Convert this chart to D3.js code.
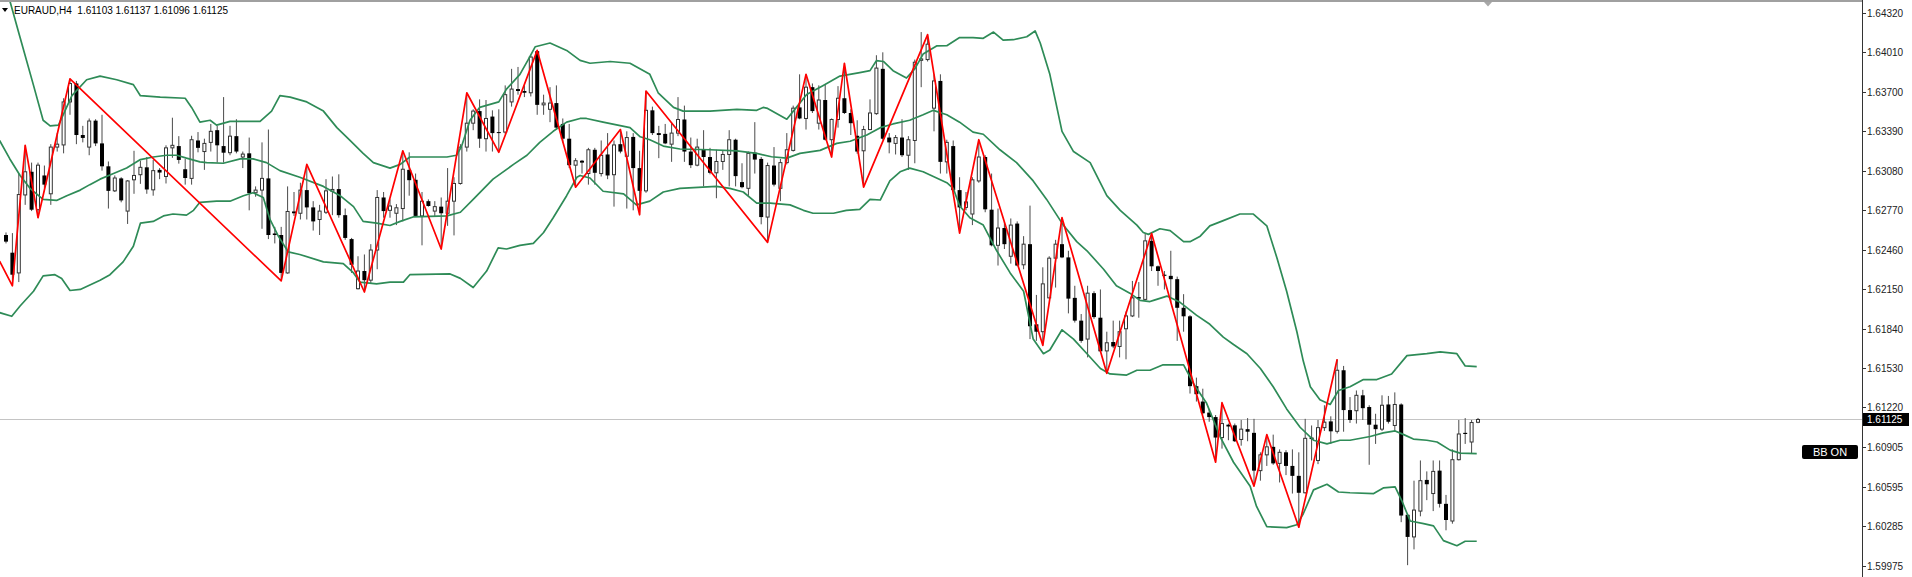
<!DOCTYPE html>
<html><head><meta charset="utf-8">
<script src="https://cdn.jsdelivr.net/npm/d3@7"></script>
<style>html,body{margin:0;padding:0;background:#fff;overflow:hidden}</style>
</head><body>
<svg id="c" width="1912" height="577"></svg>
<script>
const symbol = "EURAUD,H4";
const yTicks = [1.64320,1.64010,1.63700,1.63390,1.63080,1.62770,1.62460,1.62150,1.61840,1.61530,1.61220,1.60905,1.60595,1.60285,1.59975];

const open = [1.62575,1.62436,1.62277,1.62890,1.63072,1.62774,1.63043,1.62899,1.63266,1.63283,
1.63621,1.63766,1.63361,1.63266,1.63474,1.63295,1.63115,1.62922,1.63020,1.62763,
1.63009,1.63049,1.63107,1.62930,1.63087,1.63035,1.63260,1.63274,1.63092,1.63020,
1.63318,1.63231,1.63303,1.63399,1.63274,1.63222,1.63352,1.63188,1.63217,1.62907,
1.62928,1.63020,1.62587,1.62575,1.62277,1.62760,1.62746,1.62928,1.62792,1.62697,
1.62754,1.62919,1.62936,1.62731,1.62543,1.62153,1.62292,1.62220,1.62457,1.62870,
1.62769,1.62746,1.62783,1.63087,1.63009,1.62725,1.62841,1.62763,1.62798,1.62746,
1.62841,1.62980,1.63266,1.63454,1.63549,1.63332,1.63506,1.63384,1.63384,1.63621,
1.63722,1.63707,1.63693,1.64020,1.63598,1.63563,1.63612,1.63448,1.63332,1.63124,
1.63159,1.63058,1.63245,1.63058,1.63208,1.63049,1.63289,1.63194,1.63346,1.63101,
1.62922,1.63555,1.63376,1.63370,1.63289,1.63376,1.63483,1.63231,1.63124,1.63245,
1.63188,1.63064,1.63153,1.63208,1.63324,1.62991,1.62942,1.63222,1.63173,1.62716,
1.63121,1.62942,1.63144,1.63240,1.63578,1.63491,1.63737,1.63454,1.63636,1.63324,
1.63483,1.63650,1.63534,1.63355,1.63237,1.63404,1.63529,1.63881,1.63341,1.63295,
1.63341,1.63202,1.63318,1.63948,1.63954,1.63572,1.63786,1.63150,1.63274,1.62928,
1.62792,1.62740,1.63000,1.63188,1.62774,1.62494,1.62630,1.62408,1.62665,1.62341,
1.62503,1.61873,1.61815,1.62081,1.62393,1.62503,1.62399,1.62081,1.61902,1.61757,
1.62118,1.61925,1.61664,1.61734,1.61699,1.61838,1.61939,1.62087,1.62069,1.62529,
1.62329,1.62263,1.62254,1.62228,1.62003,1.61936,1.61387,1.61266,1.61179,1.61144,
1.60983,1.61084,1.61079,1.60968,1.61049,1.61020,1.60723,1.60847,1.60910,1.60780,
1.60867,1.60760,1.60682,1.60549,1.60983,1.60803,1.61061,1.61110,1.61032,1.61512,
1.61199,1.61194,1.61315,1.61223,1.61084,1.61049,1.61243,1.61078,1.61243,1.60376,
1.60202,1.60405,1.60650,1.60543,1.60723,1.60462,1.60327,1.60809,1.61020,1.60948,
1.61103];

const high = [1.62595,1.62590,1.63058,1.63280,1.63144,1.63144,1.63121,1.63289,1.63376,1.63650,
1.63803,1.63786,1.63433,1.63491,1.63485,1.63520,1.63153,1.63043,1.63029,1.63006,
1.63237,1.63159,1.63188,1.63165,1.63101,1.63280,1.63497,1.63352,1.63173,1.63355,
1.63384,1.63332,1.63448,1.63433,1.63659,1.63433,1.63485,1.63231,1.63341,1.62957,
1.63303,1.63404,1.62639,1.62639,1.62957,1.62913,1.62986,1.63130,1.62841,1.62812,
1.63014,1.63035,1.63052,1.62783,1.62552,1.62408,1.62422,1.62503,1.62928,1.62913,
1.62855,1.62818,1.63237,1.63225,1.63058,1.62913,1.62855,1.62841,1.62870,1.63101,
1.63029,1.63289,1.63693,1.63563,1.63641,1.63636,1.63555,1.63563,1.63751,1.63881,
1.63896,1.63751,1.63988,1.64026,1.63678,1.63737,1.63751,1.63491,1.63448,1.63179,
1.63165,1.63260,1.63260,1.63318,1.63376,1.63318,1.63404,1.63390,1.63376,1.63237,
1.63707,1.63584,1.63433,1.63448,1.63462,1.63659,1.63592,1.63341,1.63332,1.63399,
1.63260,1.63245,1.63237,1.63399,1.63332,1.63139,1.63231,1.63462,1.63188,1.63144,
1.63266,1.63173,1.63376,1.63592,1.63838,1.63838,1.63766,1.63751,1.63757,1.63491,
1.63745,1.63925,1.63563,1.63477,1.63433,1.63641,1.63988,1.64011,1.63376,1.63361,
1.63485,1.63352,1.63954,1.64170,1.64150,1.63838,1.63838,1.63324,1.63318,1.63029,
1.62913,1.63029,1.63324,1.63202,1.63058,1.62783,1.62682,1.62705,1.62682,1.62566,
1.62806,1.62104,1.62321,1.62408,1.62537,1.62711,1.62451,1.62176,1.61954,1.62176,
1.62133,1.62147,1.61815,1.61902,1.61902,1.61974,1.62214,1.62205,1.62584,1.62587,
1.62335,1.62292,1.62451,1.62248,1.62110,1.61945,1.61454,1.61367,1.61208,1.61160,
1.61257,1.61093,1.61093,1.61121,1.61136,1.61130,1.60867,1.61006,1.61006,1.60890,
1.60884,1.60890,1.60867,1.61130,1.61078,1.61121,1.61237,1.61150,1.61598,1.61546,
1.61301,1.61353,1.61358,1.61237,1.61170,1.61315,1.61310,1.61338,1.61252,1.60384,
1.60644,1.60803,1.60717,1.60803,1.60803,1.60532,1.60890,1.61121,1.61136,1.61121,
1.61137];

const low = [1.62509,1.62176,1.62205,1.62812,1.62763,1.62711,1.62942,1.62812,1.63231,1.63217,
1.63520,1.63289,1.63303,1.63202,1.63274,1.63081,1.62783,1.62913,1.62832,1.62662,
1.62899,1.62977,1.62899,1.62884,1.63014,1.62980,1.63182,1.63136,1.62971,1.62971,
1.63225,1.63087,1.63231,1.63144,1.63144,1.63202,1.63217,1.63101,1.62769,1.62876,
1.62624,1.62543,1.62509,1.62214,1.62271,1.62725,1.62697,1.62697,1.62610,1.62575,
1.62740,1.62731,1.62711,1.62537,1.62277,1.62147,1.62127,1.62191,1.62306,1.62711,
1.62711,1.62653,1.62682,1.62884,1.62719,1.62494,1.62798,1.62725,1.62465,1.62647,
1.62572,1.62971,1.63231,1.63399,1.63260,1.63231,1.63231,1.63225,1.63370,1.63584,
1.63678,1.63659,1.63664,1.63520,1.63520,1.63462,1.63404,1.63303,1.63101,1.62951,
1.63058,1.62971,1.62971,1.63035,1.63014,1.62798,1.63217,1.62783,1.62769,1.62734,
1.62907,1.63361,1.63179,1.63289,1.63150,1.63352,1.63150,1.63101,1.63115,1.62957,
1.63052,1.62864,1.63087,1.62957,1.62957,1.62942,1.62884,1.63058,1.62659,1.62517,
1.62957,1.62841,1.63130,1.63231,1.63485,1.63404,1.63534,1.63404,1.63318,1.63188,
1.63419,1.63526,1.63361,1.63214,1.62951,1.63399,1.63520,1.63324,1.63217,1.63208,
1.63188,1.63087,1.63139,1.63737,1.63939,1.63390,1.63058,1.63058,1.62913,1.62590,
1.62769,1.62653,1.62986,1.62754,1.62486,1.62335,1.62465,1.62350,1.62329,1.62306,
1.61757,1.61743,1.61708,1.62075,1.62162,1.62393,1.61959,1.61887,1.61728,1.61613,
1.61916,1.61656,1.61488,1.61685,1.61613,1.61598,1.61930,1.61925,1.62061,1.62292,
1.62176,1.62147,1.62046,1.61743,1.61815,1.61329,1.61266,1.61165,1.61107,1.60789,
1.60896,1.60962,1.60948,1.60919,1.60954,1.60601,1.60644,1.60760,1.60769,1.60630,
1.60688,1.60543,1.60278,1.60543,1.60803,1.60774,1.61035,1.60933,1.61015,1.61029,
1.61098,1.61093,1.61121,1.60769,1.60933,1.61035,1.61093,1.61035,1.60318,1.59980,
1.60104,1.60364,1.60491,1.60405,1.60433,1.60254,1.60306,1.60803,1.60933,1.60861,
1.61096];

const close = [1.62523,1.62263,1.62893,1.63072,1.62774,1.63124,1.62971,1.63266,1.63289,1.63621,
1.63766,1.63361,1.63338,1.63471,1.63295,1.63115,1.62922,1.63023,1.62847,1.63000,
1.63043,1.63107,1.62933,1.63081,1.63066,1.63260,1.63280,1.63165,1.63023,1.63324,
1.63260,1.63295,1.63390,1.63280,1.63222,1.63352,1.63231,1.63211,1.62904,1.62928,
1.63020,1.62575,1.62575,1.62277,1.62760,1.62746,1.62928,1.62792,1.62682,1.62763,
1.62922,1.62933,1.62731,1.62552,1.62341,1.62292,1.62220,1.62457,1.62870,1.62763,
1.62803,1.62789,1.63092,1.63006,1.62725,1.62841,1.62803,1.62798,1.62746,1.62841,
1.62980,1.63266,1.63454,1.63549,1.63332,1.63491,1.63376,1.63376,1.63678,1.63722,
1.63707,1.63693,1.63974,1.63598,1.63612,1.63612,1.63419,1.63332,1.63124,1.63159,
1.63144,1.63245,1.63064,1.63202,1.63043,1.63283,1.63231,1.63341,1.63101,1.62922,
1.63555,1.63376,1.63361,1.63295,1.63376,1.63483,1.63231,1.63124,1.63266,1.63188,
1.63064,1.63153,1.63208,1.63324,1.63038,1.62951,1.63217,1.63168,1.62716,1.63121,
1.62971,1.63144,1.63245,1.63572,1.63491,1.63737,1.63549,1.63636,1.63324,1.63483,
1.63650,1.63534,1.63454,1.63231,1.63404,1.63534,1.63887,1.63332,1.63303,1.63341,
1.63202,1.63324,1.63933,1.63959,1.64075,1.63786,1.63150,1.63303,1.62928,1.62792,
1.62835,1.63009,1.63188,1.62777,1.62494,1.62630,1.62503,1.62653,1.62335,1.62503,
1.61858,1.61815,1.62191,1.62393,1.62503,1.62399,1.62075,1.61902,1.61743,1.62118,
1.61930,1.61661,1.61728,1.61699,1.61815,1.61939,1.62081,1.62075,1.62529,1.62329,
1.62292,1.62254,1.62228,1.62003,1.61936,1.61387,1.61324,1.61174,1.61144,1.60983,
1.61093,1.61070,1.60954,1.61049,1.61029,1.60723,1.60847,1.60910,1.60780,1.60867,
1.60760,1.60682,1.60549,1.60977,1.60971,1.61061,1.61104,1.61032,1.61512,1.61199,
1.61121,1.61315,1.61214,1.61084,1.61049,1.61237,1.61107,1.61243,1.60370,1.60202,
1.60413,1.60644,1.60616,1.60717,1.60462,1.60335,1.60809,1.61011,1.61011,1.61101,
1.61125];

// Bollinger bands, sampled along the bar axis
const upBar = [-1,0.6,2.2,4.3,5.8,6.9,8.2,10.3,12.6,14.7,17.3,19.9,21,24.1,28,29,30.3,31.9,32.9,35,39.7,41.5,42.8,44.4,47,49.6,51.7,53.75,55.8,57.4,60,61.6,63.1,68.9,70.4,71.2,72.5,74,77,78.2,80.3,81.6,82.7,85,87.6,89.7,91.25,94.4,97.5,100.6,101.9,104.3,105.8,110,114.2,117.3,118.3,119,122,123.5,125.1,127.7,130.3,133.4,135,136,137.1,138.6,140.7,142,143.3,145.4,147,149,151.1,152.7,154.3,155.8,157.4,159.5,160.8,161.6,163.1,165,166.8,169.4,172,174.1,176.7,177.7,178.5,180.3,181.9,184,185,186.6,188.1,190.2,192.8,194.9,197,198.6,200.1,201.7,202.7,203.8,205.3,206.9,208.2,210,212.1,214.2,216.5,218.9,222,224.1,226.7,228,229.8];
const upVal = [1.64719,1.64416,1.64127,1.63751,1.63477,1.63433,1.63439,1.63670,1.63795,1.63824,1.63795,1.63757,1.63670,1.63659,1.63650,1.63578,1.63462,1.63477,1.63439,1.63468,1.63468,1.63549,1.63670,1.63659,1.63621,1.63549,1.63419,1.63318,1.63217,1.63144,1.63101,1.63130,1.63188,1.63188,1.63202,1.63274,1.63477,1.63578,1.63621,1.63722,1.63838,1.63954,1.64055,1.64084,1.64026,1.63948,1.63925,1.63939,1.63925,1.63838,1.63693,1.63578,1.63549,1.63549,1.63563,1.63555,1.63578,1.63570,1.63485,1.63578,1.63679,1.63751,1.63824,1.63852,1.63867,1.63945,1.63939,1.63867,1.63809,1.63881,1.63997,1.64061,1.64063,1.64127,1.64127,1.64121,1.64170,1.64107,1.64110,1.64133,1.64179,1.64084,1.63838,1.63390,1.63231,1.63144,1.62884,1.62769,1.62653,1.62595,1.62580,1.62624,1.62610,1.62523,1.62523,1.62566,1.62647,1.62688,1.62740,1.62740,1.62647,1.62393,1.62133,1.61815,1.61584,1.61382,1.61280,1.61243,1.61353,1.61382,1.61439,1.61439,1.61483,1.61627,1.61642,1.61656,1.61642,1.61546,1.61540];

const midBar = [-1,0.6,2.2,3.75,5.8,7.9,9.5,11.6,13.1,14.7,16.8,18.85,21,23,25.1,26.7,28.2,30.3,31.35,33.95,36.6,38.6,40.7,42.8,45.9,49.6,52.2,54.3,55.8,57.9,60,61.6,63.6,68.9,71,73,76.1,79.3,81.4,83.4,85.5,87.6,89.7,90.7,93.3,97.5,99.1,100.6,102.7,105.3,110,114.2,117.3,119.6,122,124.05,127.2,129.8,131.9,134.5,136.6,138.6,141.2,143.3,144.9,147,149,151.1,152.7,155.3,157.9,160.5,162.6,165.2,167.3,168.9,171.5,173.5,175.6,177.2,178.75,179.3,181.4,183.45,186,188.1,190.2,191.8,193.9,196,198,200.1,202.2,204.3,206.4,208.45,210,213.15,215.2,217.05,218.4,219.9,222,223.6,225.65,227.2,229.8];
const midVal = [1.63318,1.63173,1.63043,1.62942,1.62855,1.62847,1.62884,1.62928,1.62971,1.63014,1.63058,1.63101,1.63168,1.63188,1.63202,1.63202,1.63179,1.63150,1.63144,1.63139,1.63173,1.63173,1.63144,1.63081,1.63029,1.62957,1.62884,1.62798,1.62682,1.62668,1.62650,1.62682,1.62717,1.62725,1.62754,1.62855,1.63014,1.63130,1.63202,1.63303,1.63390,1.63462,1.63491,1.63491,1.63462,1.63419,1.63347,1.63324,1.63274,1.63251,1.63245,1.63237,1.63217,1.63190,1.63179,1.63217,1.63240,1.63295,1.63312,1.63361,1.63419,1.63448,1.63477,1.63520,1.63555,1.63520,1.63462,1.63384,1.63367,1.63245,1.63144,1.63000,1.62855,1.62653,1.62523,1.62451,1.62306,1.62176,1.62118,1.62061,1.62052,1.62061,1.62095,1.62046,1.61945,1.61873,1.61772,1.61714,1.61642,1.61526,1.61382,1.61208,1.61064,1.60962,1.60933,1.60962,1.60962,1.60991,1.61020,1.61035,1.61006,1.60971,1.60962,1.60948,1.60884,1.60861,1.60856];

const lowBar = [-1,0.9,2.2,4.3,5.8,7.65,8.7,10,11.6,14.7,16.25,18.3,19.9,21,23,24.6,26.1,28.2,29.3,30.3,32.9,35,37.1,38.6,40.2,41.25,42.55,44.1,45.9,49.6,52.7,54.3,55.3,57.9,60,62.1,63.1,69.4,71,73,75.1,76.9,78.2,80.3,82.4,84,85.5,87.6,89.2,89.7,91.25,93.3,96.5,98.5,100.6,102.7,105.3,111,113.1,115.2,117.3,119.4,122.5,124.6,126.1,129.3,131.3,133.4,135,136.6,138.1,139.7,141.2,143.3,144.9,147,148,149,150.6,152.7,154.8,156.9,159,160.5,162.1,163.1,165,166.8,168.9,171,172.5,175.1,176.7,178.75,180.8,184,185.5,187.6,189.7,191.8,194.4,195.4,197,200.1,201.7,202.7,204.3,206.4,208.2,210,213.7,215.2,217.05,218.1,219.4,221.5,223.05,224.6,226.7,228,229.8];
const lowVal = [1.61965,1.61936,1.62017,1.62133,1.62254,1.62263,1.62234,1.62139,1.62147,1.62220,1.62263,1.62364,1.62486,1.62668,1.62682,1.62725,1.62740,1.62731,1.62769,1.62832,1.62841,1.62841,1.62884,1.62907,1.62870,1.62697,1.62566,1.62442,1.62422,1.62364,1.62350,1.62277,1.62205,1.62191,1.62205,1.62205,1.62263,1.62269,1.62234,1.62162,1.62292,1.62474,1.62465,1.62494,1.62509,1.62595,1.62711,1.62884,1.63029,1.63043,1.63023,1.62919,1.62899,1.62812,1.62841,1.62913,1.62942,1.62957,1.62942,1.62913,1.62826,1.62826,1.62812,1.62769,1.62746,1.62746,1.62769,1.62777,1.62855,1.62850,1.63000,1.63072,1.63101,1.63072,1.63035,1.62986,1.62942,1.62805,1.62711,1.62653,1.62451,1.62277,1.62133,1.61757,1.61642,1.61671,1.61830,1.61757,1.61642,1.61526,1.61483,1.61474,1.61512,1.61512,1.61555,1.61555,1.61410,1.61252,1.60991,1.60789,1.60601,1.60442,1.60283,1.60275,1.60298,1.60384,1.60572,1.60616,1.60555,1.60549,1.60543,1.60587,1.60595,1.60486,1.60327,1.60306,1.60289,1.60173,1.60133,1.60168,1.60168];

// ZigZag pivots
const zzBar = [-1,1,3,5,10,43,47,56,62,68,72,77,83,89,96,99,100,119,125,129,131,134,144,149,152,162,165,172,179,189,190,195,197,202,208];
const zzVal = [1.62370,1.62176,1.63280,1.62711,1.63803,1.62214,1.63130,1.62127,1.63237,1.62465,1.63693,1.63225,1.64026,1.62951,1.63404,1.62734,1.63707,1.62517,1.63838,1.63188,1.63925,1.62951,1.64150,1.62590,1.63324,1.61708,1.62711,1.61488,1.62587,1.60789,1.61257,1.60601,1.61006,1.60278,1.61598];

const svg = d3.select('#c');
const axisX = 1862;
const n = open.length;
const x = d3.scaleLinear().domain([0, n - 1]).range([6, 1478]);
const y = d3.scaleLinear().domain([1.59975, 1.64320]).range([565.8, 13]);
const font = "'Liberation Sans', Arial, sans-serif";

svg.append('defs').append('clipPath').attr('id','plot')
  .append('rect').attr('x',0).attr('y',2).attr('width',axisX).attr('height',575);
const g = svg.append('g').attr('clip-path','url(#plot)');

const last = n - 1;
const lastPrice = close[last];

// bid line
g.append('line').attr('x1',0).attr('x2',axisX)
  .attr('y1',Math.round(y(lastPrice))+0.5).attr('y2',Math.round(y(lastPrice))+0.5)
  .attr('stroke','#c4c4c4').attr('stroke-width',1);

// candles
const idx = d3.range(n);
g.append('g').selectAll('line').data(idx).join('line')
  .attr('x1', i => x(i)).attr('x2', i => x(i))
  .attr('y1', i => y(high[i])).attr('y2', i => y(low[i]))
  .attr('stroke', '#4a4a4a').attr('stroke-width', 1);
g.append('g').selectAll('rect').data(idx).join('rect')
  .attr('x', i => close[i] >= open[i] ? x(i) - 1.5 : x(i) - 2)
  .attr('width', i => close[i] >= open[i] ? 3 : 4)
  .attr('y', i => {
    const t = y(Math.max(open[i], close[i])), b = y(Math.min(open[i], close[i]));
    return close[i] >= open[i] ? t : (b - t < 1 ? t - 0.5 : t);
  })
  .attr('height', i => Math.max(1, y(Math.min(open[i], close[i])) - y(Math.max(open[i], close[i]))))
  .attr('fill', i => close[i] >= open[i] ? '#ffffff' : '#000000')
  .attr('stroke', i => close[i] >= open[i] ? '#333333' : 'none')
  .attr('stroke-width', 1);

// Bollinger bands
const band = (bars, vals) => d3.line().x((d, i) => x(bars[i])).y(d => y(d))(vals);
[[upBar, upVal], [midBar, midVal], [lowBar, lowVal]].forEach(([b, v]) => {
  g.append('path').attr('d', band(b, v)).attr('fill','none')
    .attr('stroke','#2e8b57').attr('stroke-width',1.7).attr('stroke-linejoin','round');
});

// ZigZag
g.append('path').attr('d', band(zzBar, zzVal)).attr('fill','none')
  .attr('stroke','#ff0000').attr('stroke-width',1.7).attr('stroke-linejoin','round');

// frame: top border and right axis
svg.append('rect').attr('x',0).attr('y',0).attr('width',axisX).attr('height',2).attr('fill','#a0a0a0');
svg.append('line').attr('x1',axisX+0.5).attr('x2',axisX+0.5).attr('y1',0).attr('y2',577)
  .attr('stroke','#333').attr('stroke-width',1);

// chart shift marker
svg.append('path').attr('d','M1484,2L1492,2L1488,6.5Z').attr('fill','#a8a8a8');

// axis ticks + labels
const ax = svg.append('g');
yTicks.forEach(t => {
  const yy = Math.round(y(t)) + 0.5;
  ax.append('line').attr('x1',axisX+1).attr('x2',axisX+4).attr('y1',yy).attr('y2',yy).attr('stroke','#333');
  ax.append('text').attr('x',axisX+5).attr('y',yy+3.5).text(t.toFixed(5))
    .attr('font-family',font).attr('font-size',10).attr('fill','#222');
});

// current price label
const py = y(lastPrice);
svg.append('rect').attr('x',axisX+1).attr('y',py-6.5).attr('width',46).attr('height',13).attr('fill','#000');
svg.append('text').attr('x',axisX+5).attr('y',py+3.6).text(lastPrice.toFixed(5))
  .attr('font-family',font).attr('font-size',10).attr('fill','#fff');

// BB ON badge
svg.append('rect').attr('x',1802).attr('y',445).attr('width',56).attr('height',14).attr('rx',2).attr('fill','#000');
svg.append('text').attr('x',1830).attr('y',456).attr('text-anchor','middle').text('BB ON')
  .attr('font-family',font).attr('font-size',11).attr('fill','#fff');

// title
svg.append('path').attr('d','M2,8L8,8L5,12Z').attr('fill','#000');
svg.append('text').attr('x',14).attr('y',14).style('white-space','pre')
  .text(symbol + '  ' + [open[last], high[last], low[last], close[last]].map(v => v.toFixed(5)).join(' '))
  .attr('font-family',font).attr('font-size',10).attr('fill','#000');
</script>
</body></html>
